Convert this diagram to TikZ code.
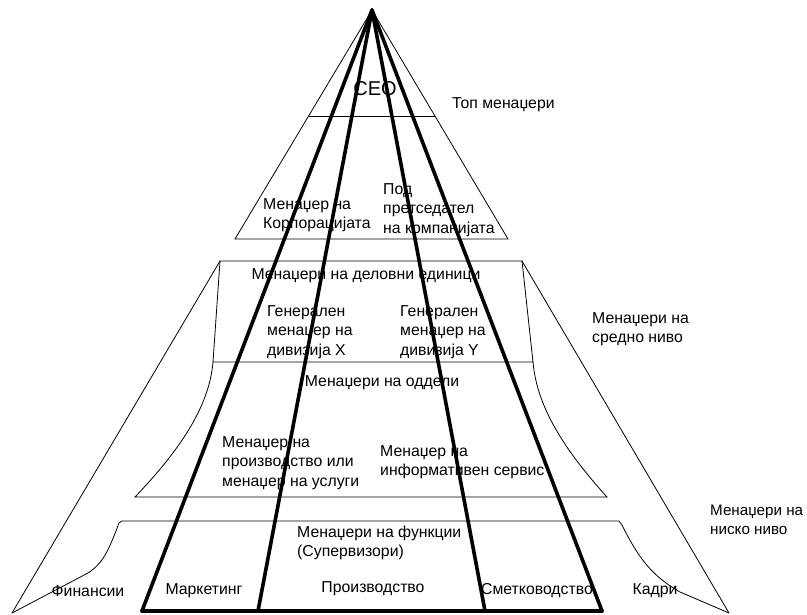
\documentclass[tikz,border=0pt]{standalone}
\usepackage{fontspec}
\setmainfont{Liberation Sans}
\begin{document}
\begin{tikzpicture}[x=1pt,y=-1pt,
  tl/.style={line width=0.8pt, line join=miter},
  tk/.style={line width=3.6pt, line cap=round},
  lbl/.style={inner sep=0pt, font=\fontsize{15.8}{19.6}\selectfont, align=left, anchor=west},
  clbl/.style={inner sep=0pt, font=\fontsize{15.8}{19.6}\selectfont, anchor=center},
  ceo/.style={inner sep=0pt, font=\fontsize{20}{22}\selectfont, anchor=center}]
\useasboundingbox (0,0) rectangle (807,614);

% labels
\node[ceo] (ceo) at (375,89) {CEO};
\node[lbl] (top) at (452,105) {Топ менаџери};
\node[lbl] (corp) at (263,215) {Менаџер на\\Корпорацијата};
\node[lbl] (vice) at (383,210) {Под\\претседател\\на компанијата};
\node[clbl] (bu) at (366,276) {Менаџери на деловни единици};
\node[lbl] (gx) at (267,332) {Генерален\\менаџер на\\дивизија X};
\node[lbl] (gy) at (400,332) {Генерален\\менаџер на\\дивизија Y};
\node[clbl] (dept) at (382,383) {Менаџери на оддели};
\node[lbl] (prod) at (222,463) {Менаџер на\\производство или\\менаџер на услуги};
\node[lbl] (info) at (380,462) {Менаџер на\\информативен сервис};
\node[lbl] (mid) at (592,329) {Менаџери на\\средно ниво};
\node[lbl, font=\fontsize{15.2}{19.6}\selectfont] (low) at (710,520) {Менаџери на\\ниско ниво};
\node[lbl] (func) at (297,543) {Менаџери на функции\\(Супервизори)};
\node[clbl] (fin) at (88,591) {Финансии};
\node[clbl] (mkt) at (204,591) {Маркетинг};
\node[clbl] (pro) at (373,589) {Производство};
\node[clbl] (acc) at (537,591) {Сметководство};
\node[clbl] (hr) at (655,591) {Кадри};

% top tier
\coordinate (apex) at (372,10);
\draw[tl] (235,239) -- (apex) -- (508,239) -- cycle;
\draw[tl] (309,116) -- (435,116);

% middle tier
\draw[tl] (220,261) -- (522,261) -- (533,362) -- (213,362) -- cycle;
\draw[tl] (213,362) .. controls (209,410) and (175,455) .. (135,497)
  -- (607,497) .. controls (569,455) and (537,410) .. (533,362);
\draw[tl] (220,261) -- (12,613);
\draw[tl] (522,261) -- (729,613);

% lower tier
\draw[tl] (12,613) -- (88,573) .. controls (103,563) and (108,552) .. (119,523)
  -- (122,521) -- (619,521) -- (622,525)
  .. controls (637,555) and (650,575) .. (680,592) -- (729,613);

% thick lines
\draw[tk] (apex) -- (142,611);
\draw[tk] (apex) -- (258,611);
\draw[tk] (apex) -- (485,611);
\draw[tk] (apex) -- (602,611);
\draw[tk] (142,611) -- (602,611);
\end{tikzpicture}
\end{document}
